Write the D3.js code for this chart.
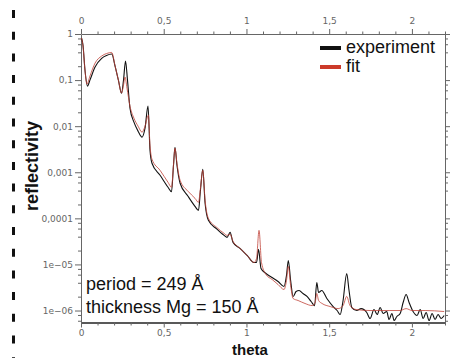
<!DOCTYPE html>
<html>
<head>
<meta charset="utf-8">
<script src="https://cdn.jsdelivr.net/npm/d3@7"></script>
<style>
html,body{margin:0;padding:0;background:#fff;}
svg{display:block;}
</style>
</head>
<body>
<svg id="chart" width="457" height="358"></svg>
<script>
// ---- data (theta, reflectivity) ----
const experiment = [
[0.003,0.82],[0.012,0.577],[0.024,0.165],[0.039,0.0741],[0.054,0.1],[0.085,0.192],[0.125,0.296],[0.154,0.341],[0.186,0.367],
[0.206,0.201],[0.226,0.1],[0.245,0.0522],[0.257,0.1],[0.269,0.259],[0.281,0.1],[0.296,0.0246],[0.320,0.0122],[0.345,0.00778],
[0.369,0.00577],[0.387,0.00905],[0.405,0.0272],[0.417,0.00301],[0.429,0.00157],[0.478,0.000861],[0.526,0.000472],[0.547,0.000377],
[0.559,0.00142],[0.568,0.00349],[0.580,0.00142],[0.599,0.000577],[0.647,0.000301],[0.689,0.000182],[0.710,0.000149],[0.722,0.000406],
[0.736,0.00116],[0.750,0.000212],[0.770,9.05e-5],[0.820,5.91e-5],[0.865,4.27e-5],[0.883,3.86e-5],[0.901,4.96e-5],[0.919,3.01e-5],
[0.961,2.23e-5],[1.004,1.57e-5],[1.046,1.10e-5],[1.061,1.10e-5],[1.073,2.12e-5],[1.088,8.18e-6],[1.118,6.37e-6],[1.155,5.21e-6],
[1.191,4.27e-6],[1.227,3.32e-6],[1.242,5.77e-6],[1.253,1.22e-5],[1.267,4.49e-6],[1.282,2.02e-6],[1.300,2.59e-6],[1.318,2.72e-6],
[1.342,2.34e-6],[1.366,2.02e-6],[1.391,1.57e-6],[1.412,1.28e-6],[1.425,4.06e-6],[1.436,2.46e-6],[1.455,2.72e-6],[1.486,1.82e-6],
[1.524,1.22e-6],[1.548,1.0e-6],[1.566,8.18e-7],[1.584,1.65e-6],[1.606,6.37e-6],[1.620,2.72e-6],[1.637,1.16e-6],[1.667,1.0e-6],
[1.693,1.10e-6],[1.727,9.05e-7],[1.747,6.70e-7],[1.771,1.05e-6],[1.790,8.18e-7],[1.808,1.16e-6],[1.826,8.61e-7],[1.848,9.51e-7],
[1.862,6.37e-7],[1.879,8.61e-7],[1.893,6.06e-7],[1.909,7.41e-7],[1.929,8.61e-7],[1.947,1.49e-6],[1.965,2.23e-6],[1.983,1.49e-6],
[2.007,9.51e-7],[2.031,7.78e-7],[2.050,1.05e-6],[2.068,6.70e-7],[2.086,9.05e-7],[2.104,6.06e-7],[2.122,8.61e-7],[2.140,6.37e-7],
[2.158,8.18e-7],[2.177,6.70e-7],[2.195,7.78e-7]
];
const fit = [
[0.003,0.82],[0.012,0.548],[0.024,0.165],[0.036,0.0818],[0.054,0.122],[0.085,0.234],[0.125,0.333],[0.154,0.377],[0.186,0.396],
[0.206,0.201],[0.226,0.1],[0.245,0.0522],[0.257,0.0778],[0.266,0.116],[0.278,0.067],[0.296,0.0272],[0.320,0.0149],[0.345,0.01],
[0.369,0.00741],[0.387,0.01],[0.407,0.0173],[0.417,0.00386],[0.429,0.00192],[0.478,0.0011],[0.526,0.000606],[0.547,0.000472],
[0.559,0.00142],[0.568,0.00332],[0.580,0.00157],[0.599,0.00067],[0.647,0.000386],[0.689,0.000272],[0.710,0.000223],[0.722,0.000449],
[0.736,0.0011],[0.750,0.000246],[0.770,1.0e-4],[0.820,6.37e-5],[0.865,4.72e-5],[0.883,4.27e-5],[0.901,4.49e-5],[0.919,3.16e-5],
[0.961,2.23e-5],[1.004,1.57e-5],[1.046,1.10e-5],[1.061,1.35e-5],[1.076,5.48e-5],[1.091,1.10e-5],[1.118,6.06e-6],[1.155,4.72e-6],
[1.191,3.67e-6],[1.227,2.86e-6],[1.242,4.49e-6],[1.253,9.05e-6],[1.267,3.49e-6],[1.282,1.82e-6],[1.312,1.65e-6],[1.354,1.42e-6],
[1.397,1.28e-6],[1.415,1.49e-6],[1.425,2.34e-6],[1.436,1.65e-6],[1.457,1.42e-6],[1.506,1.22e-6],[1.554,1.10e-6],[1.584,1.28e-6],
[1.606,2.02e-6],[1.626,1.28e-6],[1.663,1.05e-6],[1.747,1.0e-6],[1.867,1.0e-6],[1.929,1.0e-6],[1.965,1.10e-6],[2.001,1.0e-6],
[2.080,1.0e-6],[2.195,9.51e-7]
];
const xTickValues = [0, 0.5, 1, 1.5, 2];
const xTickLabels = ["0", "0,5", "1", "1,5", "2"];
const yTickValues = [1, 0.1, 0.01, 0.001, 0.0001, 1e-5, 1e-6];
const yTickLabels = ["1", "0,1", "0,01", "0,001", "0,0001", "1e\u221205", "1e\u221206"];
const seriesNames = ["experiment", "fit"];
const annotations = ["period = 249 \u00c5", "thickness Mg = 150 \u00c5"];

// ---- layout ----
const svg = d3.select("#chart");
const L = 81, R = 445, T = 34, B = 322.5;
const x = d3.scaleLinear().domain([0, 2.2]).range([L, R]);
const y = d3.scaleLog().domain([Math.pow(10, -6.26), 1]).range([B, T]);

const axisColor = "#666";
const labelFont = "'DejaVu Sans', Verdana, sans-serif";

// dashed mark at left edge
svg.append("line").attr("x1", 13.5).attr("x2", 13.5).attr("y1", 10).attr("y2", 358)
  .attr("stroke", "#111").attr("stroke-width", 3).attr("stroke-dasharray", "8 13.7");

// minor tick values
const xMinor = d3.range(0, 22.01, 1).map(d => d / 10).filter(d => !xTickValues.some(v => Math.abs(v - d) < 1e-9));
const yMinor = [];
for (let e = -7; e <= 0; e++) for (const m of [2, 4, 6, 8]) {
  const v = m * Math.pow(10, e);
  if (v >= y.domain()[0] && v <= 1) yMinor.push(v);
}

function styleAxis(g) {
  g.selectAll("path.domain").attr("stroke", axisColor).attr("stroke-width", 1);
  g.selectAll(".tick line").attr("stroke", axisColor);
  g.selectAll(".tick text").attr("fill", "#666").style("font-family", labelFont).style("font-size", "9px");
}

// bottom axis
const gB = svg.append("g").attr("transform", `translate(0,${B})`);
gB.call(d3.axisBottom(x).tickValues(xTickValues).tickFormat((d, i) => xTickLabels[i]).tickSize(5).tickSizeOuter(0).tickPadding(2));
styleAxis(gB);
gB.select("path.domain").attr("stroke", "#222").attr("stroke-width", 1.4);
const gBm = svg.append("g").attr("transform", `translate(0,${B})`);
gBm.call(d3.axisBottom(x).tickValues(xMinor).tickFormat("").tickSize(3).tickSizeOuter(0));
styleAxis(gBm); gBm.select("path.domain").remove();

// top axis
const gT = svg.append("g").attr("transform", `translate(0,${T})`);
gT.call(d3.axisTop(x).tickValues(xTickValues).tickFormat((d, i) => xTickLabels[i]).tickSize(5).tickSizeOuter(0).tickPadding(5));
styleAxis(gT);
const gTm = svg.append("g").attr("transform", `translate(0,${T})`);
gTm.call(d3.axisTop(x).tickValues(xMinor).tickFormat("").tickSize(2.5).tickSizeOuter(0));
styleAxis(gTm); gTm.select("path.domain").remove();

// left axis
const gL = svg.append("g").attr("transform", `translate(${L},0)`);
gL.call(d3.axisLeft(y).tickValues(yTickValues).tickFormat((d, i) => yTickLabels[i]).tickSize(6).tickSizeOuter(0).tickPadding(2));
styleAxis(gL);
const gLm = svg.append("g").attr("transform", `translate(${L},0)`);
gLm.call(d3.axisLeft(y).tickValues(yMinor).tickFormat("").tickSize(3).tickSizeOuter(0));
styleAxis(gLm); gLm.select("path.domain").remove();

// right axis
const gR = svg.append("g").attr("transform", `translate(${R},0)`);
gR.call(d3.axisRight(y).tickValues(yTickValues).tickFormat("").tickSize(5).tickSizeOuter(0));
styleAxis(gR);
const gRm = svg.append("g").attr("transform", `translate(${R},0)`);
gRm.call(d3.axisRight(y).tickValues(yMinor).tickFormat("").tickSize(3).tickSizeOuter(0));
styleAxis(gRm); gRm.select("path.domain").remove();

// lines
const line = d3.line().x(d => x(d[0])).y(d => y(d[1])).curve(d3.curveMonotoneX);
svg.append("path").datum(experiment).attr("d", line)
  .attr("fill", "none").attr("stroke", "#111").attr("stroke-width", 1.1).attr("stroke-linejoin", "round");
svg.append("path").datum(fit).attr("d", line)
  .attr("fill", "none").attr("stroke", "#c0443a").attr("stroke-width", 1.0).attr("stroke-opacity", 0.8).attr("stroke-linejoin", "round");

// legend
const legColors = ["#111", "#cc3a2a"];
seriesNames.forEach((name, i) => {
  const yy = 48 + i * 19;
  svg.append("rect").attr("x", 320).attr("y", yy - 2).attr("width", 21).attr("height", 4).attr("fill", legColors[i]);
  svg.append("text").attr("x", 346).attr("y", yy + 5).text(name)
    .style("font-family", "'Liberation Sans', Arial, sans-serif").style("font-size", "18px").attr("fill", "#111");
});

// annotations
annotations.forEach((t, i) => {
  svg.append("text").attr("x", 86).attr("y", 290 + i * 22.5).text(t)
    .style("font-family", "'Liberation Sans', Arial, sans-serif").style("font-size", "18px").attr("fill", "#111");
});

// axis titles
svg.append("text").attr("transform", "translate(38,166) rotate(-90)").attr("text-anchor", "middle")
  .text("reflectivity").style("font-family", "'Liberation Sans', Arial, sans-serif")
  .style("font-size", "18px").style("font-weight", "bold").attr("fill", "#111");
svg.append("text").attr("x", 250).attr("y", 354.5).attr("text-anchor", "middle")
  .text("theta").style("font-family", "'Liberation Sans', Arial, sans-serif")
  .style("font-size", "15px").style("font-weight", "bold").attr("fill", "#111");
</script>
</body>
</html>
